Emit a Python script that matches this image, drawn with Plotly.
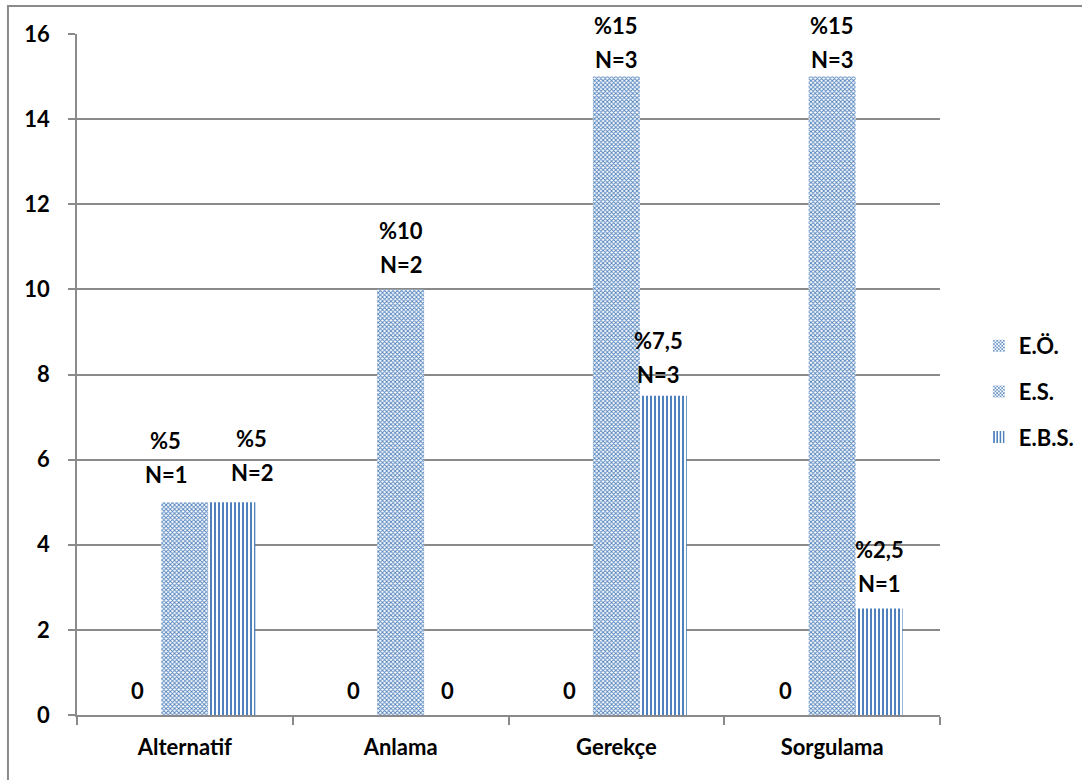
import plotly.graph_objects as go

# Categories and series values
categories = ["Alternatif", "Anlama", "Gerekçe", "Sorgulama"]
series_names = ["E.Ö.", "E.S.", "E.B.S."]
eo_values = [0, 0, 0, 0]
es_values = [5, 10, 15, 15]
ebs_values = [5, 0, 7.5, 2.5]
es_pct = ["%5", "%10", "%15", "%15"]
es_n = ["N=1", "N=2", "N=3", "N=3"]
ebs_pct = ["%5", "", "%7,5", "%2,5"]
ebs_n = ["N=2", "", "N=3", "N=1"]
y_ticks = [0, 2, 4, 6, 8, 10, 12, 14, 16]

BLUE = "#4F81BD"
GRID = "#8a8a8a"
FONT = "Lato"
TXT = dict(family=FONT, size=22, color="black", weight="bold")

fig = go.Figure()

checker = dict(shape="x", size=3, solidity=0.5, fgcolor=BLUE, bgcolor="white", fillmode="replace")
stripes = dict(shape="|", size=4, solidity=0.5, fgcolor=BLUE, bgcolor="white", fillmode="replace")

for name, vals, pat in [(series_names[0], eo_values, checker),
                        (series_names[1], es_values, checker),
                        (series_names[2], ebs_values, stripes)]:
    fig.add_trace(go.Bar(
        x=categories, y=vals, name=name, legendgroup=name,
        marker=dict(color=BLUE, pattern=pat, line=dict(width=0)),
    ))

# Data labels: two lines each, placed above the bar top (pixel nudges per label)
BAR_PX = 47
es_dx = [-19, 0, 0, 0]
es_lift = [3, 0, -8, -8]
ebs_dx = [20, 0, -5, 0]
ebs_lift = [5, 0, -4, 0]
annotations = []


def add_label(cat, val, offset, lines, dx=0, lift=0):
    n = len(lines)
    for i, line in enumerate(lines):
        annotations.append(dict(
            x=cat, y=val, xref="x", yref="y", text=line, showarrow=False,
            font=TXT, xanchor="center", yanchor="middle",
            xshift=offset * BAR_PX + dx,
            yshift=25 + lift + (n - 1 - i) * 34,
        ))


for i, cat in enumerate(categories):
    add_label(cat, eo_values[i], -1, [str(eo_values[i])])
    add_label(cat, es_values[i], 0, [es_pct[i], es_n[i]], dx=es_dx[i], lift=es_lift[i])
    if ebs_values[i] == 0:
        add_label(cat, ebs_values[i], 1, ["0"])
    else:
        add_label(cat, ebs_values[i], 1, [ebs_pct[i], ebs_n[i]], dx=ebs_dx[i], lift=ebs_lift[i])

fig.update_layout(
    width=1082, height=780,
    margin=dict(l=77, r=142, t=34, b=65, autoexpand=False),
    paper_bgcolor="white", plot_bgcolor="white",
    barmode="group", bargap=0.347, bargroupgap=0,
    font=dict(family=FONT, size=20, color="black"),
    annotations=annotations,
    legend=dict(
        x=1.045, y=0.475, xanchor="left", yanchor="middle",
        font=TXT, tracegroupgap=14, bgcolor="rgba(0,0,0,0)",
    ),
    shapes=[dict(type="rect", xref="paper", yref="paper",
                 x0=-0.08, x1=1.2, y0=-0.2, y1=1.041,
                 line=dict(color="#8a8a8a", width=2), fillcolor="rgba(0,0,0,0)",
                 layer="below")],
)

fig.update_yaxes(
    range=[0, 16], tickvals=y_ticks, showgrid=True, gridcolor=GRID, gridwidth=1.5,
    showline=True, linecolor=GRID, linewidth=1.5, ticks="outside", ticklen=7,
    tickcolor=GRID, tickwidth=1.5, zeroline=False, ticklabelstandoff=14,
    tickfont=TXT,
)
fig.update_xaxes(
    showline=True, linecolor=GRID, linewidth=2, ticks="outside", ticklen=8,
    tickcolor=GRID, tickwidth=1.5, tickson="boundaries", ticklabelstandoff=12,
    tickfont=TXT,
)

fig.write_html("out.html")
